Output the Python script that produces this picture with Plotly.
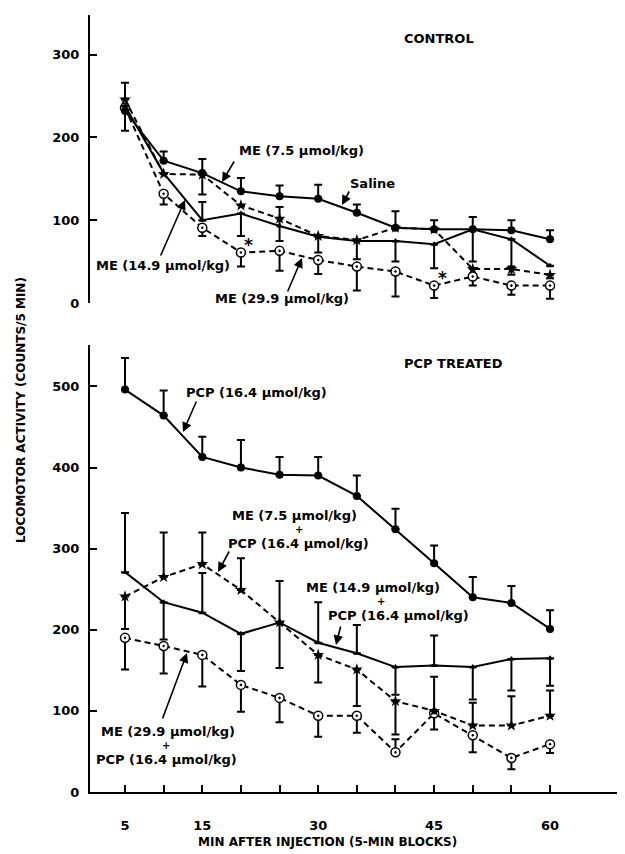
import plotly.graph_objects as go

# ---------------- data ----------------
minutes = [5, 10, 15, 20, 25, 30, 35, 40, 45, 50, 55, 60]
x_ticks = [5, 10, 15, 20, 25, 30, 35, 40, 45, 50, 55, 60]
x_ticktext = ["5", "", "15", "", "", "30", "", "", "45", "", "", "60"]
y_top_ticks = [0, 100, 200, 300]
y_bot_ticks = [0, 100, 200, 300, 400, 500]

# CONTROL panel
saline = [232, 172, 157, 135, 129, 126, 109, 91, 89, 89, 88, 77]
saline_up = [0, 11, 17, 16, 13, 17, 10, 20, 11, 15, 12, 11]
saline_dn = [0, 0, 0, 0, 0, 0, 0, 0, 0, 0, 0, 0]

me75 = [246, 156, 155, 118, 102, 81, 76, 91, 89, 41, 41, 34]
me75_up = [20, 0, 0, 0, 0, 0, 0, 0, 0, 0, 0, 0]
me75_dn = [0, 0, 24, 0, 0, 0, 0, 0, 0, 0, 7, 4]

me149 = [238, 157, 100, 108, 93, 80, 75, 75, 71, 89, 77, 45]
me149_up = [0, 0, 22, 0, 23, 0, 0, 0, 0, 0, 0, 0]
me149_dn = [0, 0, 0, 27, 18, 19, 22, 25, 29, 39, 33, 0]

me299 = [236, 132, 91, 61, 63, 52, 44, 38, 21, 32, 21, 21]
me299_up = [0, 0, 0, 0, 0, 0, 0, 0, 0, 0, 0, 0]
me299_dn = [28, 13, 10, 17, 24, 17, 29, 30, 15, 11, 11, 16]

signif_minutes = [20, 45]

# PCP TREATED panel
pcp = [496, 464, 413, 400, 391, 390, 365, 324, 282, 240, 233, 201]
pcp_up = [39, 31, 25, 34, 22, 23, 25, 25, 22, 25, 21, 23]
pcp_dn = [0, 0, 0, 0, 0, 0, 0, 0, 0, 0, 0, 0]

me75p = [241, 265, 281, 249, 209, 169, 151, 112, 100, 82, 82, 94]
me75p_up = [0, 55, 39, 39, 0, 0, 0, 0, 42, 28, 36, 31]
me75p_dn = [40, 0, 0, 0, 56, 34, 45, 41, 0, 0, 0, 0]

me149p = [271, 234, 221, 195, 209, 184, 171, 154, 156, 154, 164, 165]
me149p_up = [73, 0, 49, 0, 51, 50, 35, 0, 37, 0, 0, 0]
me149p_dn = [0, 46, 0, 46, 0, 0, 0, 34, 0, 40, 39, 34]

me299p = [190, 180, 169, 132, 116, 94, 94, 49, 97, 70, 42, 59]
me299p_up = [0, 0, 0, 0, 0, 0, 0, 16, 0, 0, 0, 0]
me299p_dn = [39, 34, 39, 33, 30, 26, 21, 0, 20, 21, 14, 11]

# ---------------- styling ----------------
FONT = "DejaVu Sans"
OFF = 8                      # page body margin in the browser
W, H = 625 - OFF, 854 - OFF
ML, MR, MT, MB = 90 - OFF, 0, 15 - OFF, 854 - 792
PW = W - ML - MR
PH = H - MT - MB


def px(x):
    return (x - OFF - ML) / PW


def py(y):
    return (H - MB - (y - OFF)) / PH


def err(up, dn):
    return dict(type="data", symmetric=False, array=up, arrayminus=dn,
                color="black", thickness=2, width=4)


def trace(y, up, dn, symbol, size, dash, xa, ya, open_=False):
    if open_:
        marker = dict(symbol=symbol, size=size, color="white",
                      line=dict(color="black", width=1.5))
    else:
        marker = dict(symbol=symbol, size=size, color="black",
                      line=dict(color="black", width=0))
    return go.Scatter(x=minutes, y=y, mode="lines+markers",
                      line=dict(color="black", width=2, dash=dash),
                      marker=marker, error_y=err(up, dn),
                      xaxis=xa, yaxis=ya, showlegend=False, cliponaxis=False)


fig = go.Figure()
# top panel
fig.add_trace(trace(me299, me299_up, me299_dn, "circle-dot", 9, "6px,4px", "x2", "y2", True))
fig.add_trace(trace(me149, me149_up, me149_dn, "triangle-up", 6, "solid", "x2", "y2"))
fig.add_trace(trace(me75, me75_up, me75_dn, "star", 9, "6px,4px", "x2", "y2"))
fig.add_trace(trace(saline, saline_up, saline_dn, "circle", 8, "solid", "x2", "y2"))
# bottom panel
fig.add_trace(trace(me299p, me299p_up, me299p_dn, "circle-dot", 9, "6px,4px", "x", "y", True))
fig.add_trace(trace(me149p, me149p_up, me149p_dn, "triangle-up", 6, "solid", "x", "y"))
fig.add_trace(trace(me75p, me75p_up, me75p_dn, "star", 9, "6px,4px", "x", "y"))
fig.add_trace(trace(pcp, pcp_up, pcp_dn, "circle", 8, "solid", "x", "y"))

xrange = [0.47, 69.7]
top_dom = [py(303), py(15)]
bot_dom = [0, py(345)]

axis_common = dict(showgrid=False, zeroline=False, showline=True, linecolor="black",
                   linewidth=2, ticks="inside", ticklen=7, tickwidth=2, tickcolor="black",
                   tickfont=dict(family=FONT, size=13, color="black", weight="bold"))

fig.update_layout(
    width=W, height=H,
    margin=dict(l=ML, r=MR, t=MT, b=MB),
    paper_bgcolor="white", plot_bgcolor="white",
    font=dict(family=FONT, size=13, color="black", weight="bold"),
    xaxis=dict(range=xrange, domain=[0, 1], anchor="y", tickmode="array",
               tickvals=x_ticks, ticktext=x_ticktext, ticklabelstandoff=20,
               **axis_common),
    xaxis2=dict(range=xrange, domain=[0, 1], anchor="y2", matches="x", visible=False),
    yaxis=dict(range=[0, 551], domain=bot_dom, anchor="x", tickmode="array",
               tickvals=y_bot_ticks, ticklabelstandoff=6, **axis_common),
    yaxis2=dict(range=[0, 348], domain=top_dom, anchor="x2", tickmode="array",
                tickvals=y_top_ticks, ticklabelstandoff=6, **axis_common),
)

ann_font = dict(family=FONT, size=13, color="black", weight="bold")


def label(text, x, y, size=13):
    fig.add_annotation(text=text, x=px(x), y=py(y), xref="paper", yref="paper",
                       showarrow=False, xanchor="center", yanchor="middle",
                       font=dict(ann_font, size=size))


def arrow(tail, tip):
    fig.add_annotation(text="", x=px(tip[0]), y=py(tip[1]), xref="paper", yref="paper",
                       ax=tail[0] - tip[0], ay=tail[1] - tip[1], showarrow=True,
                       arrowhead=2, arrowsize=1.2, arrowwidth=1.6, arrowcolor="black")


# top panel labels
label("CONTROL", 439, 38)
label("ME (7.5 µmol/kg)", 301, 150)
label("Saline", 372, 183)
label("ME (14.9 µmol/kg)", 163, 265)
label("ME (29.9 µmol/kg)", 282, 298)
arrow((235, 160), (222, 182))
arrow((350, 190), (342, 205))
arrow((160, 257), (185, 200))
arrow((287, 293), (302, 258))

for m in signif_minutes:
    i = minutes.index(m)
    fig.add_annotation(text="*", x=m, y=me299[i], xref="x2", yref="y2",
                       showarrow=False, xshift=8, yshift=8,
                       font=dict(ann_font, size=17))

# bottom panel labels
label("PCP TREATED", 453, 363)
label("PCP (16.4 µmol/kg)", 256, 392)
label("ME (7.5 µmol/kg)", 294, 515)
label("+", 299, 529, 10)
label("PCP (16.4 µmol/kg)", 298, 543)
label("ME (14.9 µmol/kg)", 373, 587)
label("+", 381, 601, 10)
label("PCP (16.4 µmol/kg)", 398, 615)
label("ME (29.9 µmol/kg)", 168, 731)
label("+", 166, 745, 10)
label("PCP (16.4 µmol/kg)", 166, 759)
arrow((197, 400), (183, 432))
arrow((230, 550), (218, 572))
arrow((341, 625), (336, 645))
arrow((162, 720), (187, 653))

# axis titles
fig.add_annotation(text="LOCOMOTOR ACTIVITY (COUNTS/5 MIN)", x=px(21), y=py(410),
                   xref="paper", yref="paper", showarrow=False, textangle=-90,
                   xanchor="center", yanchor="middle", font=dict(ann_font, size=12))
label("MIN AFTER INJECTION (5-MIN BLOCKS)", 327, 842, 12)

fig.write_html("out.html")
